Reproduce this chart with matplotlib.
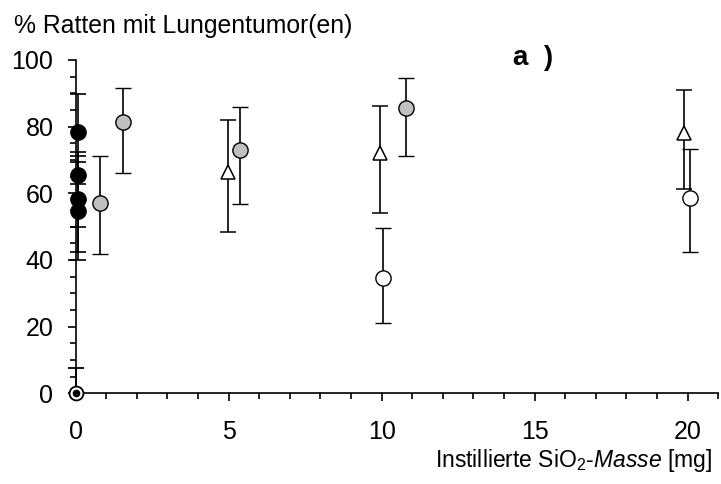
import numpy as np
import matplotlib
matplotlib.use("Agg")
import matplotlib.pyplot as plt
from matplotlib.ticker import MultipleLocator

plt.rcParams['font.family'] = ['Liberation Sans', 'DejaVu Sans']
plt.rcParams['mathtext.fontset'] = 'custom'
plt.rcParams['mathtext.rm'] = 'Liberation Sans'
plt.rcParams['mathtext.it'] = 'Liberation Sans:italic'

# black filled circles (near x=0)
black_x = [0.09, 0.09, 0.06, 0.06]
black_y = [78.5, 65.5, 58.2, 54.8]
black_lo = [62.8, 50.0, 42.5, 40.0]
black_hi = [89.7, 72.5, 71.3, 69.5]

# grey circles
grey_x = [0.80, 1.53, 5.37, 10.8]
grey_y = [57.2, 81.3, 73.0, 85.5]
grey_lo = [41.7, 66.0, 56.9, 71.3]
grey_hi = [71.3, 91.5, 85.8, 94.6]

# open triangles
tri_x = [4.97, 9.95, 19.9]
tri_y = [66.5, 72.0, 78.2]
tri_lo = [48.3, 54.0, 61.3]
tri_hi = [82.0, 86.3, 91.0]

# open circles
open_x = [10.03, 20.08]
open_y = [34.7, 58.5]
open_lo = [21.0, 42.5]
open_hi = [49.7, 73.2]

# control at zero
ctrl_x = [0.0]
ctrl_y = [0.0]
ctrl_hi = [7.5]


def yerr(y, lo, hi):
    y = np.array(y)
    return [y - np.array(lo), np.array(hi) - y]


fig = plt.figure(figsize=(7.21, 4.84), dpi=100)
ax = fig.add_axes([0.105, 0.1874, 0.891, 0.6887])

ebkw = dict(ecolor='black', elinewidth=1.2, capsize=6, capthick=1.2, linestyle='none', clip_on=False)

ax.errorbar(black_x, black_y, yerr=yerr(black_y, black_lo, black_hi), fmt='o',
            mfc='black', mec='black', ms=11, zorder=3, **ebkw)
ax.errorbar(grey_x, grey_y, yerr=yerr(grey_y, grey_lo, grey_hi), fmt='o',
            mfc='#c0c0c0', mec='black', mew=1.0, ms=11, zorder=3, **ebkw)
ax.errorbar(tri_x, tri_y, yerr=yerr(tri_y, tri_lo, tri_hi), fmt='^',
            mfc='white', mec='black', mew=1.1, ms=10.5, zorder=3, **ebkw)
ax.errorbar(open_x, open_y, yerr=yerr(open_y, open_lo, open_hi), fmt='o',
            mfc='white', mec='black', mew=1.0, ms=11, zorder=3, **ebkw)
ax.errorbar(ctrl_x, ctrl_y, yerr=[[0], ctrl_hi], fmt='o',
            mfc='white', mec='black', mew=1.3, ms=10, zorder=4, **ebkw)
ax.plot(ctrl_x, ctrl_y, 'o', color='black', ms=4.5, zorder=5, clip_on=False)

ax.set_xlim(0, 21)
ax.set_ylim(0, 100)
ax.spines['top'].set_visible(False)
ax.spines['right'].set_visible(False)
ax.spines['left'].set_linewidth(1.2)
ax.spines['bottom'].set_linewidth(1.2)

ax.xaxis.set_major_locator(MultipleLocator(5))
ax.xaxis.set_minor_locator(MultipleLocator(1))
ax.yaxis.set_major_locator(MultipleLocator(20))
ax.yaxis.set_minor_locator(MultipleLocator(5))
ax.tick_params(which='major', direction='out', length=6, width=1.2, labelsize=18)
ax.tick_params(which='minor', direction='out', length=4.3, width=1.2)
ax.tick_params(axis='y', which='major', pad=10)
ax.tick_params(axis='x', which='major', pad=13)

fig.text(14 / 721, 1 - 33 / 484, '% Ratten mit Lungentumor(en)', fontsize=17.8,
         ha='left', va='baseline')
fig.text(712 / 721, 17 / 484, r'Instillierte SiO$_2$-$\mathit{Masse}$ [mg]', fontsize=16.5,
         ha='right', va='baseline')
fig.text(533 / 721, 1 - 58 / 484, 'a  )', fontsize=20, fontweight='bold',
         ha='center', va='center')

fig.savefig('out.png', dpi=100)
